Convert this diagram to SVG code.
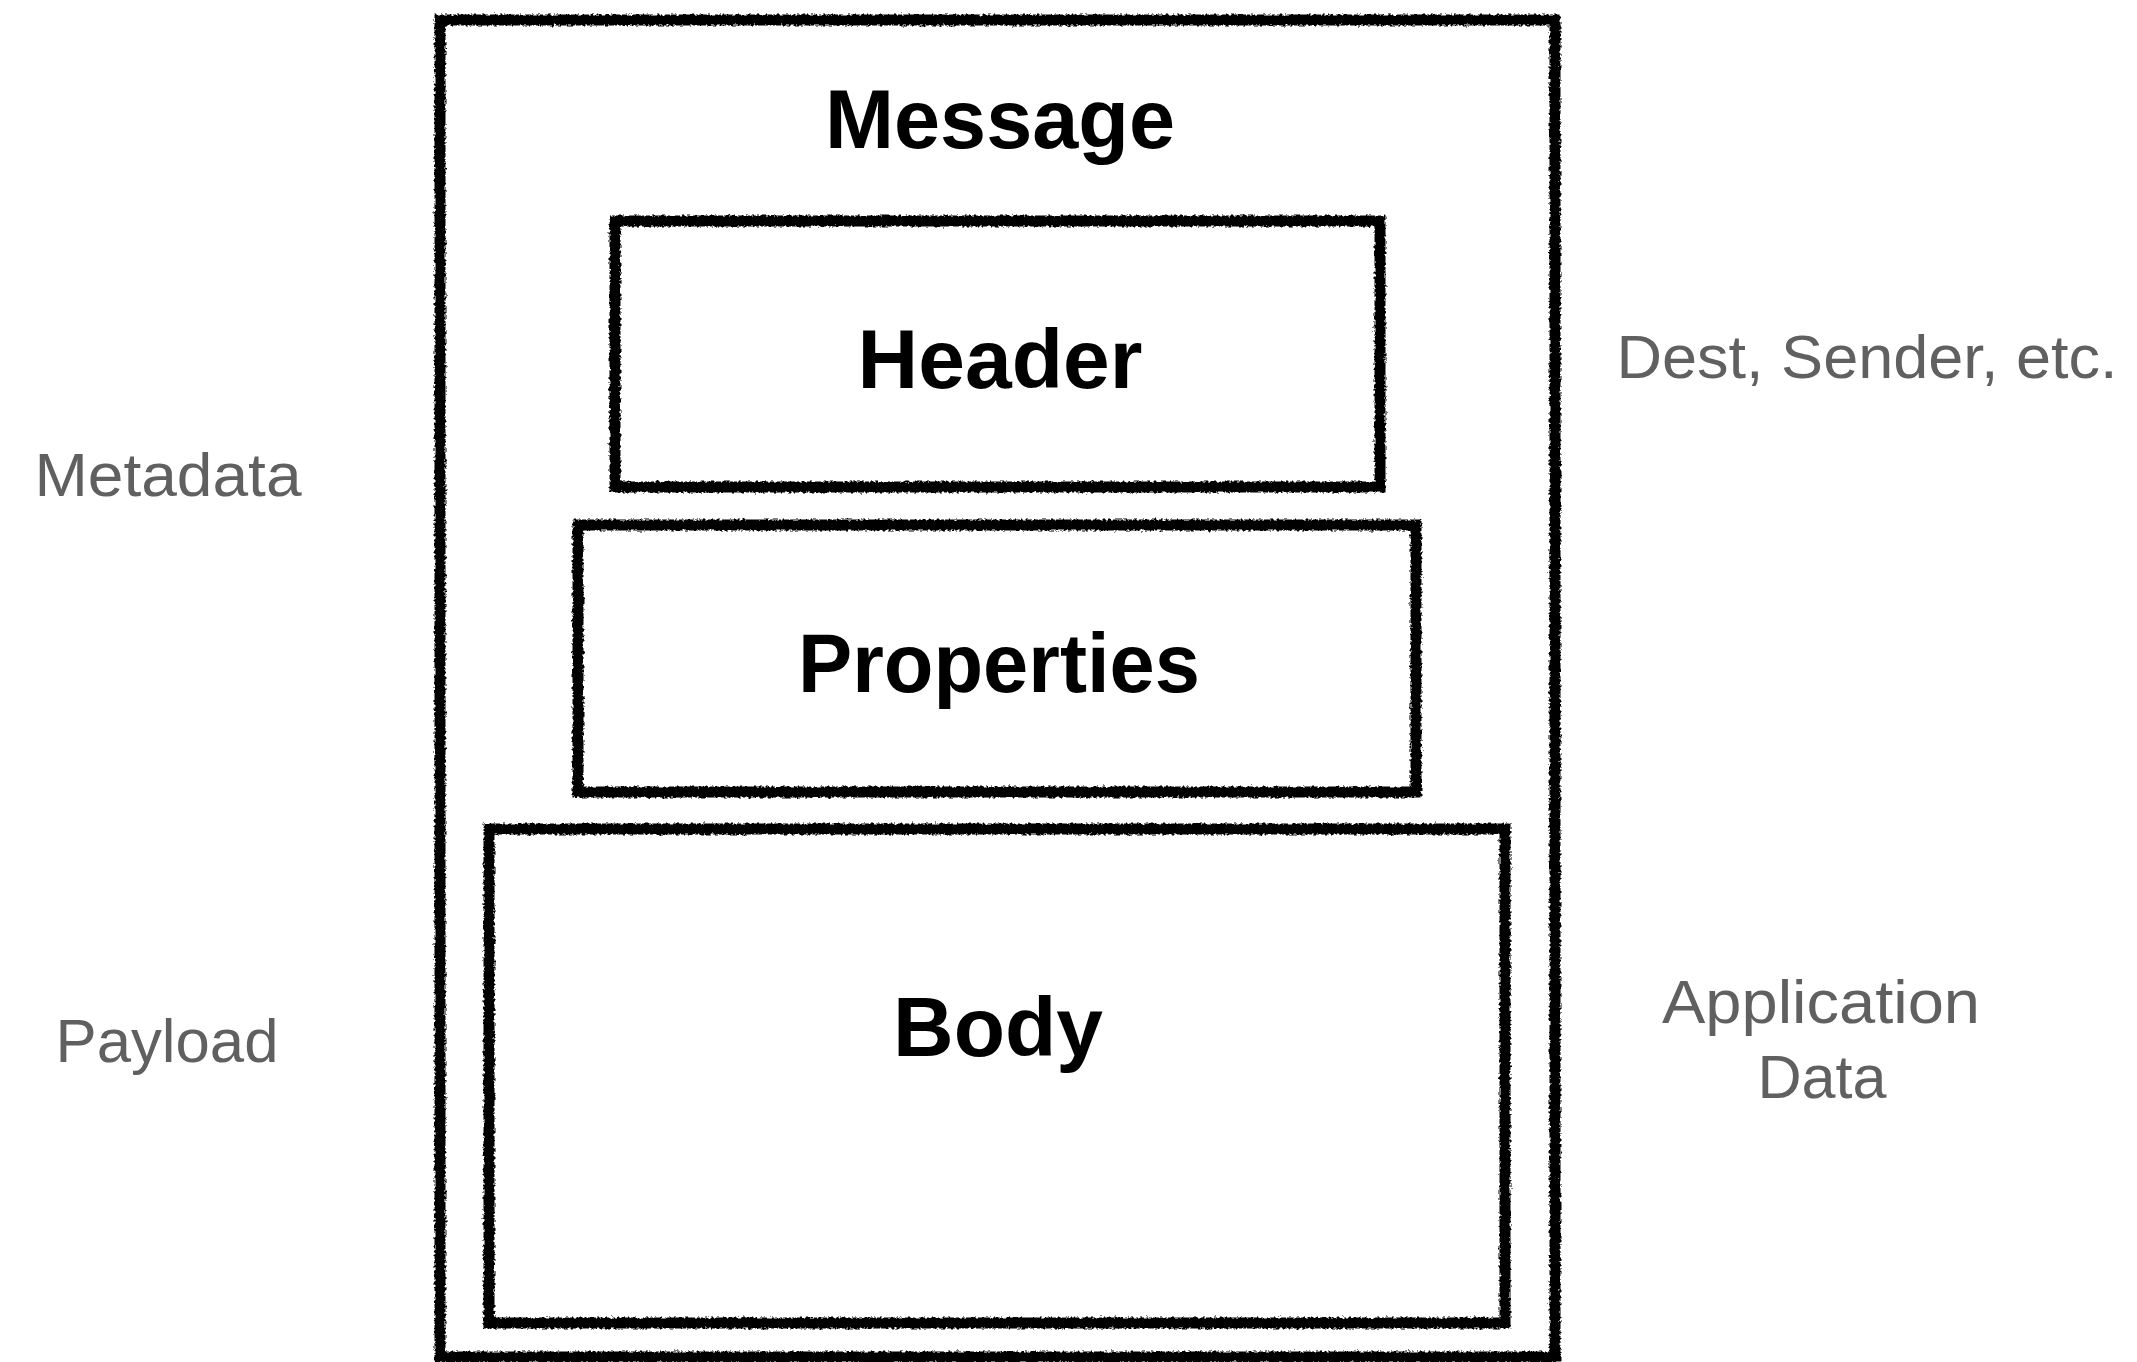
<svg xmlns="http://www.w3.org/2000/svg" width="2137" height="1362" viewBox="0 0 2137 1362">
<defs>
<filter id="rough" x="-5%" y="-5%" width="110%" height="110%">
<feTurbulence type="fractalNoise" baseFrequency="0.35" numOctaves="2" seed="4" result="n"/>
<feDisplacementMap in="SourceGraphic" in2="n" scale="5" xChannelSelector="R" yChannelSelector="G"/>
</filter>
</defs>
<style>
.box{fill:none;stroke:#000;stroke-width:11;stroke-linejoin:miter;filter:url(#rough)}
.title{font-family:"Liberation Sans",Arial,sans-serif;font-weight:bold;font-size:84px;fill:#000;text-anchor:middle}
.note{font-family:"Liberation Sans",Arial,sans-serif;font-size:62px;fill:#606060;text-anchor:middle}
</style>
<rect width="2137" height="1362" fill="#fff"/>
<g id="message">
<rect class="box" x="440" y="20" width="1115" height="1337"/>
<text class="title" x="1000" y="148" textLength="350" lengthAdjust="spacingAndGlyphs">Message</text>
</g>
<g id="header">
<rect class="box" x="615" y="221" width="765" height="266"/>
<text class="title" x="1000" y="388">Header</text>
</g>
<g id="properties">
<rect class="box" x="578" y="525" width="838" height="267"/>
<text class="title" x="999" y="692" textLength="402" lengthAdjust="spacingAndGlyphs">Properties</text>
</g>
<g id="body">
<rect class="box" x="489" y="829" width="1016" height="494"/>
<text class="title" x="998" y="1056">Body</text>
</g>
<g id="labels">
<text class="note" x="168" y="496" textLength="267" lengthAdjust="spacingAndGlyphs">Metadata</text>
<text class="note" x="167" y="1062" textLength="223" lengthAdjust="spacingAndGlyphs">Payload</text>
<text class="note" x="1867" y="378" textLength="501" lengthAdjust="spacingAndGlyphs">Dest, Sender, etc.</text>
<text class="note" x="1821" y="1023" textLength="318" lengthAdjust="spacingAndGlyphs">Application</text>
<text class="note" x="1822" y="1098" textLength="129" lengthAdjust="spacingAndGlyphs">Data</text>
</g>
<g id="connectors"/>
</svg>
